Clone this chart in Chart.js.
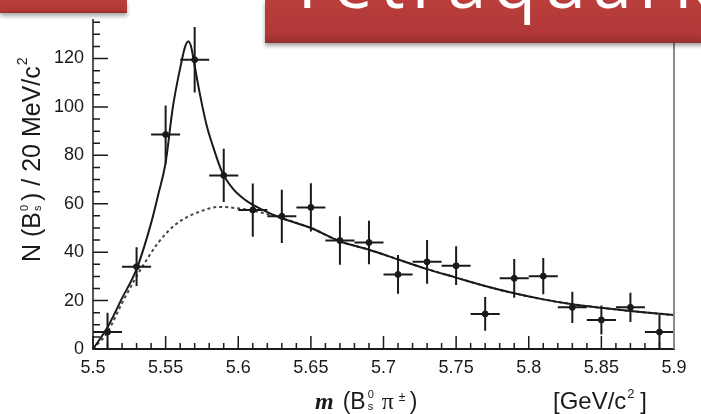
<!DOCTYPE html>
<html>
<head>
<meta charset="utf-8">
<script src="https://cdn.jsdelivr.net/npm/chart.js@4.4.1/dist/chart.umd.min.js"></script>
<style>
  html, body { margin: 0; padding: 0; background: #fff; }
  #wrap { position: relative; width: 701px; height: 414px; overflow: hidden; }
  #chart { position: absolute; left: 0; top: 0; }
  .banner {
    position: absolute; top: 0; overflow: hidden;
    background: linear-gradient(#b93e3c, #b03836 80%, #93302e);
    box-shadow: 0 3px 4px rgba(0,0,0,0.35);
  }
  #bannerLeft { left: 0; width: 127px; height: 13px; }
  #bannerRight { left: 265px; width: 450px; height: 43px; }
  #bannerRight span {
    position: absolute; top: -54px; left: 23px;
    font-family: "Open Sans", sans-serif; font-size: 70px; color: #fff;
    letter-spacing: 7px; white-space: nowrap; line-height: 70px;
  }
</style>
</head>
<body>
<div id="wrap">
  <canvas id="chart" width="701" height="414"></canvas>
  <div class="banner" id="bannerLeft"></div>
  <div class="banner" id="bannerRight"><span>Tetraquark</span></div>
</div>
<script>
// B_s pi invariant mass spectrum, 20 MeV bins
const binWidth = 0.02;
const binCenters = [5.51, 5.53, 5.55, 5.57, 5.59, 5.61, 5.63, 5.65, 5.67, 5.69,
                    5.71, 5.73, 5.75, 5.77, 5.79, 5.81, 5.83, 5.85, 5.87, 5.89];
const counts = [7, 34, 88.6, 119.5, 71.7, 57.4, 54.8, 58.5, 44.8, 44,
                30.8, 36, 34.4, 14.5, 29.2, 30.1, 17.2, 12, 17.2, 7];
const errors = [8, 8, 12, 13.5, 11, 11, 11, 10, 10, 9,
                8, 9, 8, 7, 8, 7.5, 6.5, 6, 6, 7];

// full fit (signal + background)
const fitX = [5.50, 5.51, 5.52, 5.53, 5.54, 5.545, 5.55, 5.555, 5.56, 5.5635, 5.5656, 5.5675,
              5.57, 5.5737, 5.578, 5.583, 5.5886, 5.5966, 5.605, 5.615, 5.63, 5.65, 5.67,
              5.69, 5.71, 5.73, 5.75, 5.77, 5.79, 5.81, 5.83, 5.85, 5.87, 5.90];
const fitY = [0, 9, 21, 33, 52, 64, 77, 100, 116, 125, 127, 125,
              117, 105, 93, 83, 73.5, 66, 61.5, 58, 54, 50, 44.5,
              41, 37, 33, 29.5, 26, 23, 20.5, 18.5, 17, 15.7, 14];

// background component (dashed)
const bkgX = [5.50, 5.51, 5.52, 5.53, 5.535, 5.545, 5.557, 5.5737, 5.5874, 5.601, 5.615, 5.63,
              5.65, 5.67, 5.69, 5.71, 5.73, 5.75, 5.77, 5.79, 5.81, 5.83, 5.85, 5.87, 5.90];
const bkgY = [0, 7, 19, 30, 35, 44, 51.5, 56.8, 58.7, 58, 56.5, 54,
              50, 44.5, 41, 37, 33, 29.5, 26, 23, 20.5, 18.5, 17, 15.7, 14];

const xTickLabels = ['5.5', '5.55', '5.6', '5.65', '5.7', '5.75', '5.8', '5.85', '5.9'];
const yTickLabels = ['0', '20', '40', '60', '80', '100', '120'];

const ink = '#1a1a1a';
const labelFont = '"Liberation Sans", Arial, sans-serif';

function toPoints(xs, ys) {
    return xs.map((x, i) => ({ x: x, y: ys[i] }));
}

// error bars + inward ROOT style ticks + frame + axis titles
const rootStyle = {
    id: 'rootStyle',
    afterDatasetsDraw(chart) {
        const ctx = chart.ctx;
        const xs = chart.scales.x, ys = chart.scales.y;
        ctx.save();
        ctx.strokeStyle = ink;
        ctx.lineWidth = 2;
        binCenters.forEach((c, i) => {
            const px = xs.getPixelForValue(c);
            const py = ys.getPixelForValue(counts[i]);
            ctx.beginPath();
            ctx.moveTo(xs.getPixelForValue(c - binWidth / 2), py);
            ctx.lineTo(xs.getPixelForValue(c + binWidth / 2), py);
            ctx.moveTo(px, ys.getPixelForValue(Math.max(0, counts[i] - errors[i])));
            ctx.lineTo(px, ys.getPixelForValue(counts[i] + errors[i]));
            ctx.stroke();
        });
        ctx.restore();
    },
    afterDraw(chart) {
        const ctx = chart.ctx;
        const xs = chart.scales.x, ys = chart.scales.y;
        const area = chart.chartArea;
        ctx.save();
        ctx.strokeStyle = ink;
        ctx.lineWidth = 1.5;
        ctx.beginPath();
        for (let i = 0; i <= 40; i++) {
            const px = xs.getPixelForValue(5.5 + i * 0.01);
            ctx.moveTo(px, area.bottom);
            ctx.lineTo(px, area.bottom - (i % 5 === 0 ? 13 : 6));
        }
        for (let i = 0; i <= 27; i++) {
            const py = ys.getPixelForValue(i * 5);
            ctx.moveTo(area.left, py);
            ctx.lineTo(area.left + (i % 4 === 0 ? 15 : 7), py);
        }
        ctx.stroke();
        // right frame edge
        ctx.strokeStyle = '#8a8a8a';
        ctx.lineWidth = 2;
        ctx.beginPath();
        ctx.moveTo(area.right, area.top);
        ctx.lineTo(area.right, area.bottom);
        ctx.stroke();

        // x axis title
        ctx.fillStyle = ink;
        ctx.textBaseline = 'alphabetic';
        let x = 315, y = 409;
        ctx.font = 'italic bold 24px "Liberation Serif", serif';
        ctx.fillText('m', x, y); x += ctx.measureText('m').width + 9;
        ctx.font = '23px ' + labelFont;
        ctx.fillText('(B', x, y); x += ctx.measureText('(B').width + 2;
        ctx.font = '11px ' + labelFont;
        ctx.fillText('0', x, y - 11);
        ctx.fillText('s', x, y + 1); x += 14;
        ctx.font = '24px "Liberation Serif", serif';
        ctx.fillText('π', x, y); x += ctx.measureText('π').width + 5;
        ctx.font = '12px ' + labelFont;
        ctx.fillText('±', x, y - 8); x += 11;
        ctx.font = '23px ' + labelFont;
        ctx.fillText(')', x, y);

        x = 553;
        ctx.font = '24px ' + labelFont;
        ctx.fillText('[GeV/c', x, y); x += ctx.measureText('[GeV/c').width + 1;
        ctx.font = '13px ' + labelFont;
        ctx.fillText('2', x, y - 11); x += 13;
        ctx.font = '24px ' + labelFont;
        ctx.fillText(']', x, y);

        // y axis title, rotated
        ctx.translate(40, 262);
        ctx.rotate(-Math.PI / 2);
        x = 0; y = 0;
        ctx.font = '25px ' + labelFont;
        ctx.fillText('N (B', x, y); x += ctx.measureText('N (B').width + 1;
        ctx.font = '11px ' + labelFont;
        ctx.fillText('0', x, y - 12);
        ctx.fillText('s', x, y + 1); x += 10;
        ctx.font = '25px ' + labelFont;
        ctx.fillText(') / 20 MeV/c', x, y); x += ctx.measureText(') / 20 MeV/c').width + 1;
        ctx.font = '14px ' + labelFont;
        ctx.fillText('2', x, y - 13);
        ctx.restore();
    }
};

const chart = new Chart(document.getElementById('chart'), {
    type: 'scatter',
    data: {
        datasets: [{
            label: 'fit',
            data: toPoints(fitX, fitY),
            showLine: true,
            borderColor: ink,
            borderWidth: 2,
            pointRadius: 0,
            cubicInterpolationMode: 'monotone',
            order: 2
        }, {
            label: 'background',
            data: toPoints(bkgX, bkgY),
            showLine: true,
            borderColor: '#444',
            borderWidth: 2,
            borderDash: [3, 3],
            pointRadius: 0,
            cubicInterpolationMode: 'monotone',
            order: 3
        }, {
            label: 'data',
            data: toPoints(binCenters, counts),
            backgroundColor: ink,
            borderColor: ink,
            pointRadius: 3,
            order: 1
        }]
    },
    options: {
        responsive: false,
        animation: false,
        layout: { padding: { left: 0, right: 27, top: 0, bottom: 0 } },
        plugins: { legend: { display: false }, tooltip: { enabled: false } },
        scales: {
            x: {
                type: 'linear',
                min: 5.5,
                max: 5.9,
                grid: { display: false, drawTicks: false },
                border: { display: true, color: ink, width: 2 },
                ticks: {
                    stepSize: 0.05,
                    autoSkip: false,
                    maxRotation: 0,
                    padding: 8,
                    color: ink,
                    font: { family: labelFont, size: 18 },
                    callback: (v) => {
                        const i = Math.round((v - 5.5) / 0.05);
                        return Math.abs(v - 5.5 - i * 0.05) < 1e-6 ? xTickLabels[i] : '';
                    }
                },
                afterFit: (s) => { s.height = 65; }
            },
            y: {
                min: 0,
                max: 136,
                grid: { display: false, drawTicks: false },
                border: { display: true, color: '#555', width: 2 },
                ticks: {
                    stepSize: 20,
                    padding: 9,
                    color: ink,
                    font: { family: labelFont, size: 18 },
                    callback: (v) => (v % 20 === 0 ? yTickLabels[v / 20] : '')
                },
                afterFit: (s) => { s.width = 93; }
            }
        }
    },
    plugins: [rootStyle]
});
</script>
</body>
</html>
